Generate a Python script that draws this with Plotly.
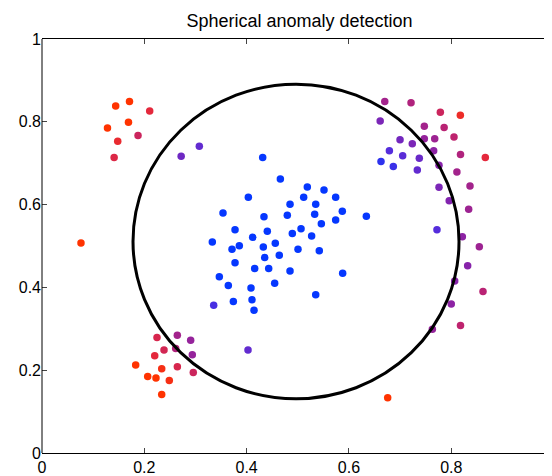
import plotly.graph_objects as go

# ---- data ----
x_vals = [
    # upper-left cluster
    0.144, 0.171, 0.2105, 0.128, 0.169, 0.1877, 0.148, 0.141, 0.272, 0.3075,
    # upper-right cluster
    0.670, 0.7213, 0.7786, 0.8177, 0.661, 0.7473, 0.786, 0.6998, 0.7473, 0.7676,
    0.8053, 0.7238, 0.679, 0.705, 0.7656, 0.818, 0.8665, 0.6626, 0.6867, 0.7375,
    0.7336, 0.776, 0.811, 0.776, 0.8366, 0.796, 0.834, 0.634, 0.772, 0.8216, 0.8548,
    # right / lower-right
    0.832, 0.8067, 0.862, 0.800, 0.818, 0.763, 0.6757,
    # central cluster
    0.4314, 0.4659, 0.5186, 0.5512, 0.4033, 0.5115, 0.574, 0.4848, 0.535, 0.587,
    0.3538, 0.4795, 0.533, 0.4339, 0.574, 0.546, 0.3773, 0.5063, 0.4404, 0.4893,
    0.527, 0.4118, 0.3329, 0.456, 0.3857, 0.3714, 0.4326, 0.5004, 0.542, 0.4638,
    0.4353, 0.3773, 0.4157, 0.4431, 0.4848, 0.5877, 0.3466, 0.3642, 0.4548, 0.4085,
    0.535, 0.4105, 0.374, 0.3356, 0.4144, 0.4027,
    # left outlier
    0.0762,
    # lower-left cluster
    0.2248, 0.2645, 0.2906, 0.2385, 0.2613, 0.2203, 0.2938, 0.1831, 0.234, 0.2646,
    0.2957, 0.2066, 0.2228, 0.2488, 0.234,
]
y_vals = [
    0.838, 0.849, 0.826, 0.785, 0.799, 0.767, 0.753, 0.714, 0.717, 0.741,
    0.849, 0.846, 0.823, 0.816, 0.802, 0.789, 0.786, 0.7566, 0.759, 0.759,
    0.763, 0.747, 0.730, 0.718, 0.730, 0.721, 0.714, 0.7044, 0.692, 0.7117,
    0.6835, 0.695, 0.679, 0.642, 0.645, 0.609, 0.589, 0.572, 0.5395, 0.5226, 0.4984,
    0.452, 0.4157, 0.390, 0.360, 0.308, 0.299, 0.1334,
    0.714, 0.662, 0.6425, 0.635, 0.6176, 0.618, 0.618, 0.6007, 0.6007, 0.5838,
    0.5797, 0.574, 0.5766, 0.5708, 0.5629, 0.554, 0.5395, 0.5419, 0.5355, 0.530,
    0.5243, 0.521, 0.5098, 0.5066, 0.5009, 0.492, 0.4977, 0.492, 0.4888, 0.4777,
    0.472, 0.4598, 0.4454, 0.4454, 0.4398, 0.4343, 0.426, 0.4044, 0.410, 0.3988,
    0.382, 0.370, 0.3658, 0.357, 0.345, 0.249,
    0.5075,
    0.279, 0.2847, 0.2726, 0.2485, 0.2524, 0.2347, 0.2371, 0.2123, 0.2034, 0.2082,
    0.1945, 0.1848, 0.1809, 0.1752, 0.1414,
]
# anomaly score: 0 = blue (normal) ... 1 = red (anomalous)
score = [
    1.0, 1.0, 0.85, 1.0, 1.0, 0.75, 0.88, 0.82, 0.4, 0.35,
    0.6, 0.65, 0.75, 0.9, 0.45, 0.6, 0.68, 0.42, 0.55, 0.58,
    0.7, 0.45, 0.3, 0.32, 0.52, 0.65, 0.85, 0.15, 0.2, 0.38,
    0.35, 0.5, 0.6, 0.45, 0.6, 0.48, 0.58, 0.0, 0.3, 0.52, 0.58,
    0.5, 0.5, 0.68, 0.52, 0.7, 0.55, 1.0,
    0.0, 0.0, 0.0, 0.0, 0.0, 0.0, 0.0, 0.0, 0.0, 0.0,
    0.0, 0.0, 0.0, 0.0, 0.0, 0.0, 0.0, 0.0, 0.0, 0.0,
    0.0, 0.0, 0.0, 0.0, 0.0, 0.0, 0.0, 0.0, 0.0, 0.0,
    0.0, 0.0, 0.0, 0.0, 0.0, 0.0, 0.0, 0.0, 0.0, 0.0,
    0.0, 0.0, 0.0, 0.25, 0.0, 0.35,
    1.0,
    0.8, 0.6, 0.55, 0.78, 0.65, 0.85, 0.55, 1.0, 0.95, 0.8,
    0.75, 1.0, 1.0, 0.95, 1.0,
]

# boundary (centre and radii in data units)
circle_cx, circle_cy = 0.4965, 0.511
circle_rx, circle_ry = 0.3186, 0.380

tick_vals = [0, 0.2, 0.4, 0.6, 0.8, 1]
tick_text = ["0", "0.2", "0.4", "0.6", "0.8", "1"]

FONT = "Liberation Sans, Arial, Helvetica, sans-serif"
COLORSCALE = [
    [0.0, "rgb(5,55,255)"],
    [0.3, "rgb(85,45,220)"],
    [0.5, "rgb(135,35,170)"],
    [0.7, "rgb(190,35,110)"],
    [0.85, "rgb(228,40,60)"],
    [1.0, "rgb(255,51,0)"],
]

# the page body has an 8px margin, so the figure is 8px smaller than the window
W, H = 544, 468

fig = go.Figure()
fig.add_trace(go.Scatter(
    x=x_vals, y=y_vals, mode="markers",
    marker=dict(size=7.5, color=score, cmin=0, cmax=1, colorscale=COLORSCALE,
                line=dict(width=0)),
    showlegend=False, hoverinfo="x+y",
))

fig.add_shape(type="circle", xref="x", yref="y",
              x0=circle_cx - circle_rx, x1=circle_cx + circle_rx,
              y0=circle_cy - circle_ry, y1=circle_cy + circle_ry,
              line=dict(color="black", width=3))
# left spine
fig.add_shape(type="line", xref="paper", yref="paper", x0=0, x1=0, y0=0, y1=1,
              line=dict(color="black", width=1))

# the x=1 tick label, mostly cut off by the right edge
fig.add_annotation(text="1", xref="paper", yref="paper", x=1.0031, y=0,
                   yanchor="top", xanchor="center", yshift=-6, showarrow=False,
                   font=dict(family=FONT, size=16, color="black"))

fig.update_layout(
    width=W, height=H,
    margin=dict(l=34, r=0, t=30.8, b=22.7, autoexpand=False),
    paper_bgcolor="white", plot_bgcolor="white",
    title=dict(text="Spherical anomaly detection", x=291.5 / W, xref="container",
               xanchor="center", y=1 - 12.5 / H, yanchor="middle",
               automargin=False,
               font=dict(family=FONT, size=18, color="black")),
    font=dict(family=FONT, size=16, color="black"),
    xaxis=dict(range=[0, (552 - 42) / 511.6], tickvals=tick_vals, ticktext=tick_text,
               showgrid=False, zeroline=False, showline=True, linecolor="black",
               linewidth=1, mirror="ticks", ticks="inside", ticklen=5,
               tickcolor="#444", tickwidth=1, automargin=False),
    yaxis=dict(range=[0, 1], tickvals=tick_vals, ticktext=tick_text,
               showgrid=False, zeroline=False, showline=False,
               mirror="ticks", ticks="inside", ticklen=5,
               tickcolor="#444", tickwidth=1, automargin=False),
)

fig.write_html("out.html")
